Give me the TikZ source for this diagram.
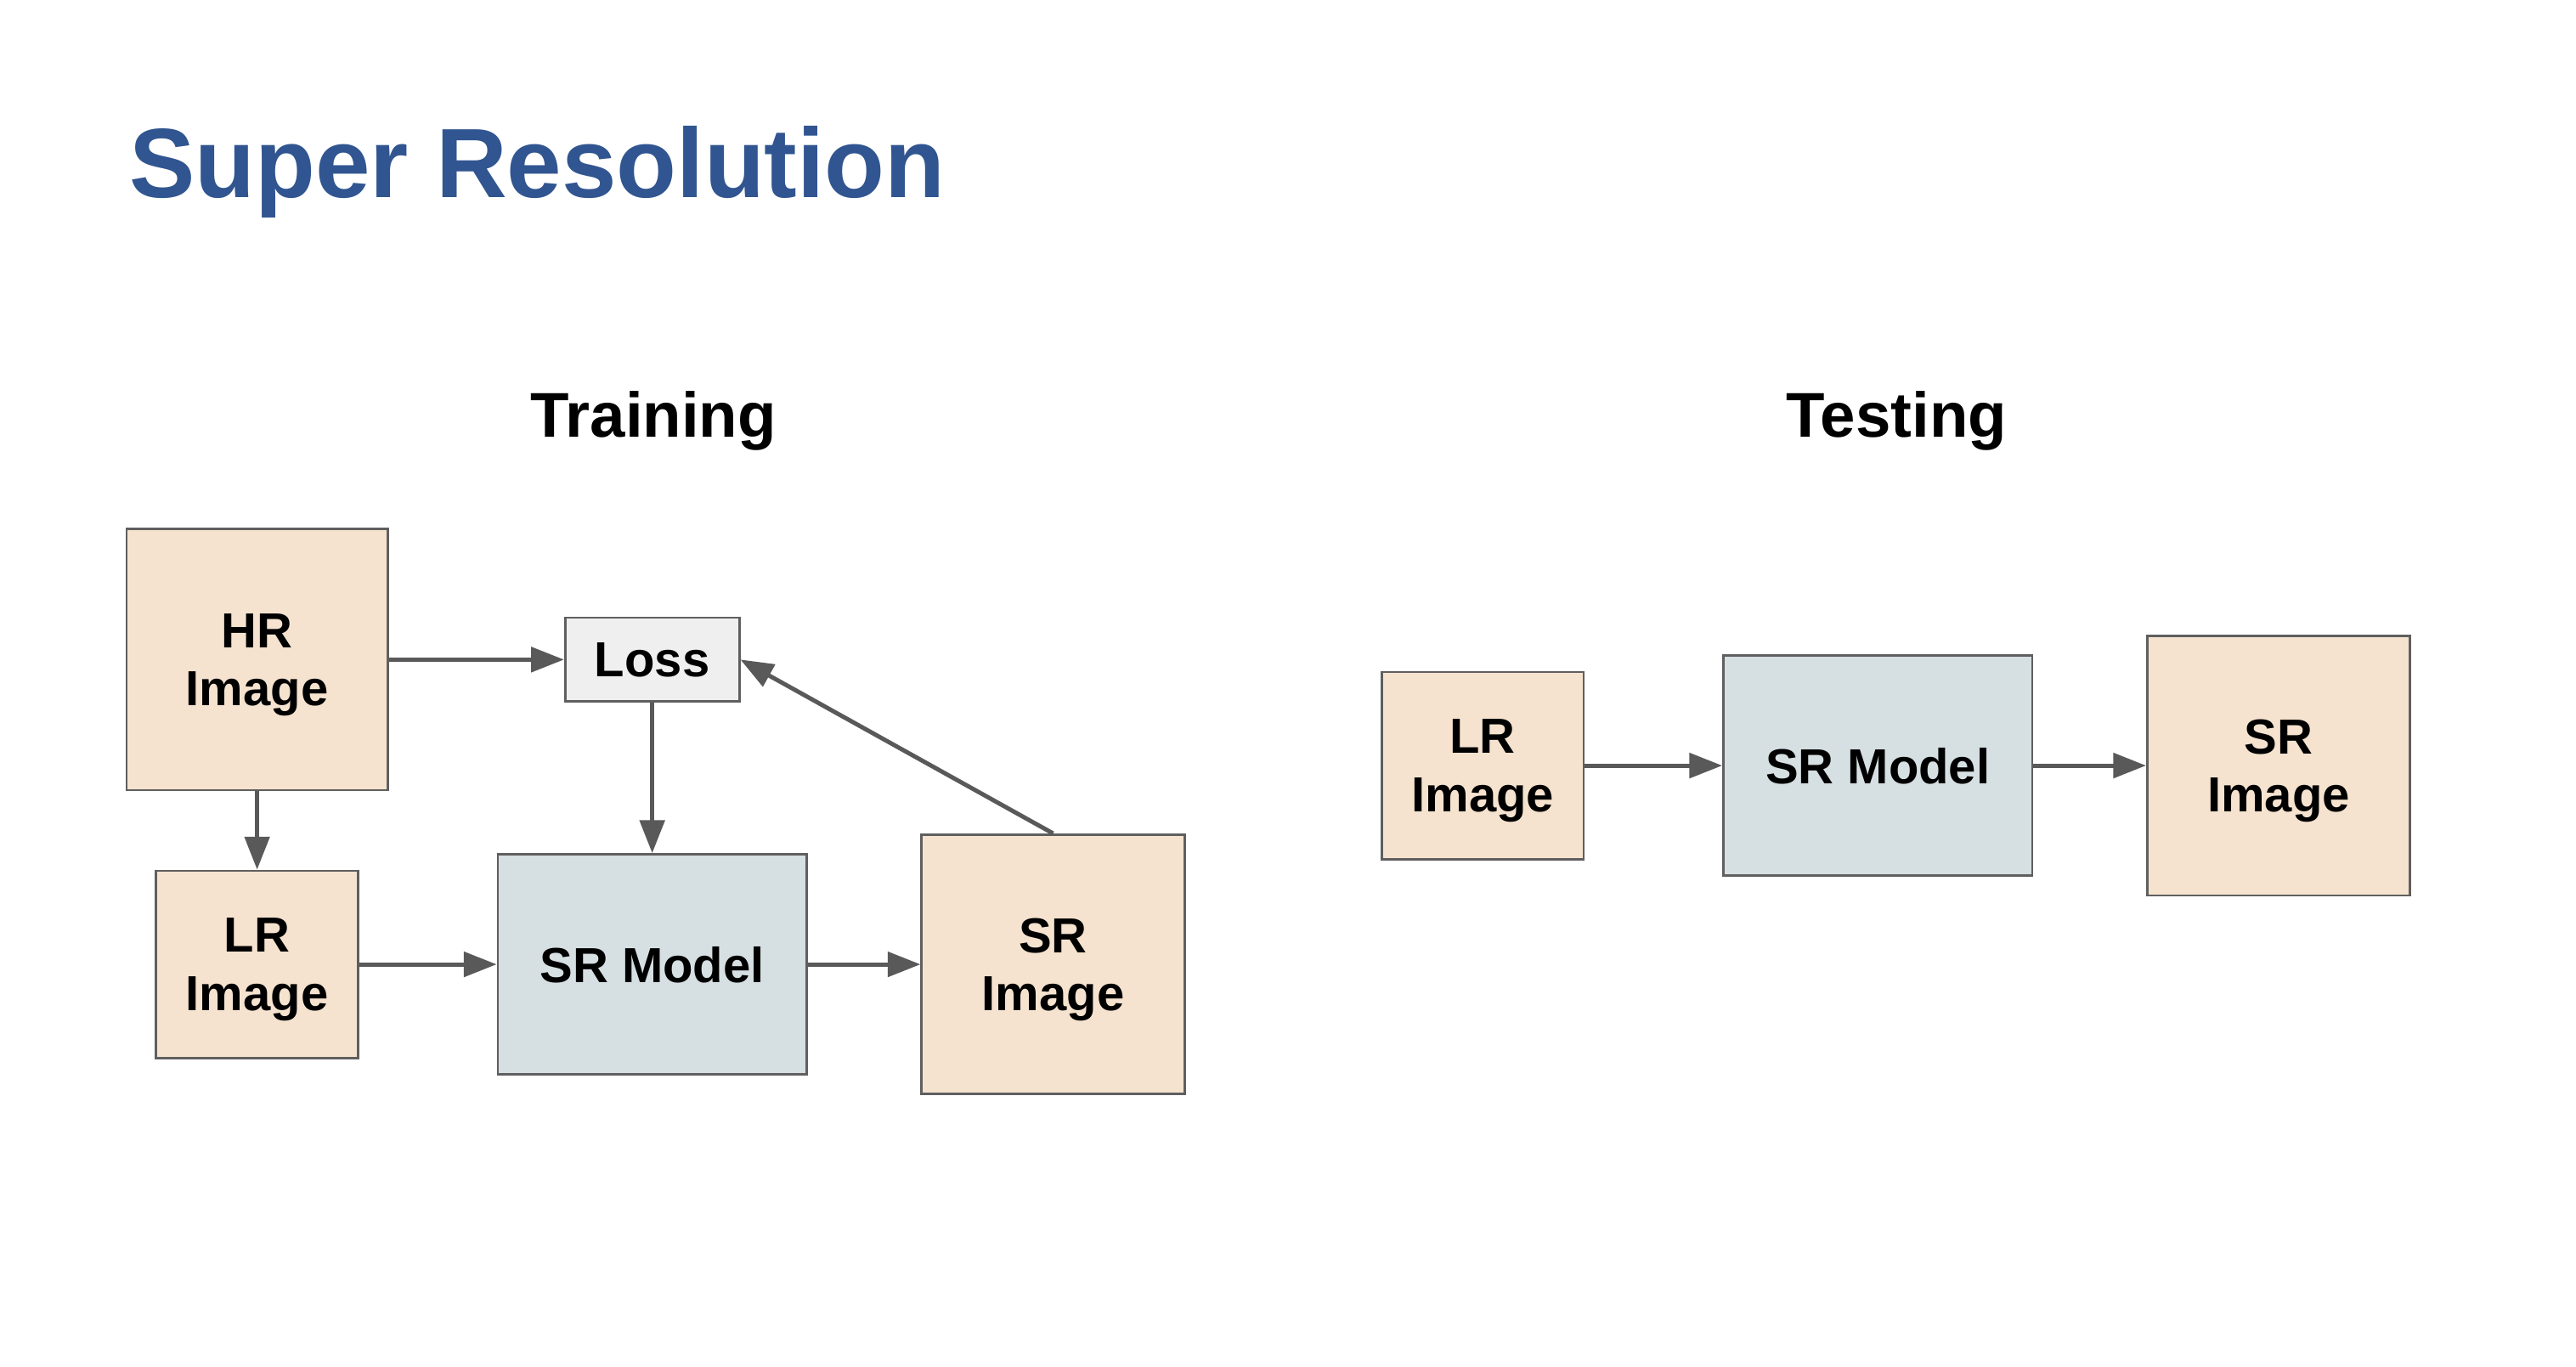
\documentclass[tikz,border=0pt]{standalone}
\usepackage{fontspec}
\setmainfont{Liberation Sans}
\usetikzlibrary{arrows.meta}
\definecolor{titleblue}{RGB}{49,85,144}
\definecolor{peach}{RGB}{245,227,207}
\definecolor{bluegray}{RGB}{214,223,226}
\definecolor{lossgray}{RGB}{239,239,239}
\definecolor{edgegray}{RGB}{89,89,89}
\definecolor{bordergray}{RGB}{95,95,95}
\tikzset{
  box/.style={draw=bordergray, line width=1.4pt, inner sep=0pt, align=center, text depth=0pt,
    font=\fontsize{30}{35.3}\selectfont\bfseries, text=black},
  imgbox/.style={box, fill=peach},
  modelbox/.style={box, fill=bluegray},
  lossbox/.style={box, fill=lossgray},
  conn/.style={draw=edgegray, line width=2.6pt, -{Triangle[length=20pt,width=15pt]}},
  heading/.style={font=\fontsize{38.5}{42}\selectfont\bfseries, text=black, inner sep=0pt}
}
\begin{document}
\begin{tikzpicture}[x=1pt,y=-1pt]
\useasboundingbox[fill=white] (0,0) rectangle (1568,831.6);
\node[anchor=base west, inner sep=0pt, text=titleblue, font=\fontsize{60}{66}\selectfont\bfseries] (title) at (78.5,120) {Super Resolution};
\node[heading, anchor=base] (train) at (397.7,266.3) {Training};
\node[heading, anchor=base] (test) at (1154.5,266.3) {Testing};
% training
\node[imgbox, minimum width=159pt, minimum height=159pt] (hr) at (156.5,401.5) {HR\\Image};
\node[lossbox, minimum width=106pt, minimum height=51pt] (loss) at (397,401.5) {Loss};
\node[imgbox, minimum width=123pt, minimum height=114pt] (lr) at (156.5,587) {LR\\Image};
\node[modelbox, minimum width=188pt, minimum height=134pt] (srm) at (397,587) {SR Model};
\node[imgbox, minimum width=160pt, minimum height=158pt] (sri) at (641,587) {SR\\Image};
\draw[conn] (hr.east) -- (loss.west);
\draw[conn] (loss.south) -- (srm.north);
\draw[conn] (hr.south) -- (lr.north);
\draw[conn] (lr.east) -- (srm.west);
\draw[conn] (srm.east) -- (sri.west);
\draw[conn] (sri.north) -- (loss.east);
% testing
\node[imgbox, minimum width=123pt, minimum height=114pt] (tlr) at (902.5,466) {LR\\Image};
\node[modelbox, minimum width=188pt, minimum height=134pt] (tsrm) at (1143,466) {SR Model};
\node[imgbox, minimum width=160pt, minimum height=158pt] (tsri) at (1387,466) {SR\\Image};
\draw[conn] (tlr.east) -- (tsrm.west);
\draw[conn] (tsrm.east) -- (tsri.west);
\end{tikzpicture}
\end{document}
